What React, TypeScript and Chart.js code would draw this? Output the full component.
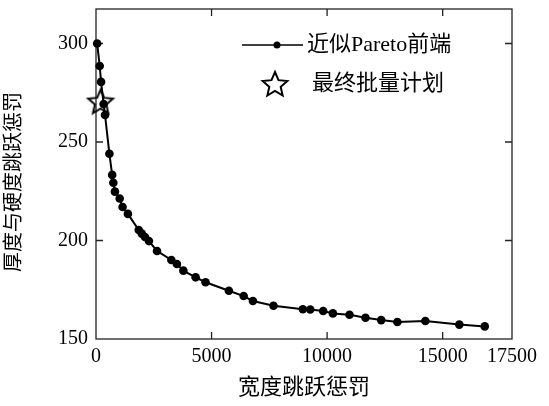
import React, { useEffect, useRef } from 'react';
import { Chart, registerables } from 'chart.js';

Chart.register(...registerables);

const paretoX = [50, 160, 220, 330, 390, 580, 700, 750, 820, 1025, 1150, 1380, 1850, 1980, 2120, 2290, 2640, 3260, 3500, 3780, 4310, 4740, 5750, 6390, 6790, 7680, 8950, 9270, 9830, 10250, 10970, 11660, 12340, 13040, 14250, 15720, 16820];
const paretoY = [300, 288.6, 280.5, 269.3, 263.7, 244, 233.3, 229.3, 224.8, 221.3, 217, 213.5, 205.3, 203.5, 201.8, 199.7, 194.7, 190.1, 188.1, 184.7, 181.3, 178.8, 174.5, 171.8, 169.3, 166.9, 165.1, 165, 164.2, 163, 162.3, 160.8, 159.6, 158.6, 159.1, 157.3, 156.4];
const planX = [200];
const planY = [270];

const xTickValues = [0, 5000, 10000, 15000, 18000];
const xTickLabels = ['0', '5000', '10000', '15000', '17500'];
const yTickValues = [150, 200, 250, 300];
const xAxisTitle = '宽度跳跃惩罚';
const yAxisTitle = '厚度与硬度跳跃惩罚';
const seriesNames = ['近似Pareto前端', '最终批量计划'];

const FONT = "'Liberation Serif', 'Times New Roman', 'Noto Sans CJK SC', serif";
const INK = '#000000';

function starPath(ctx: CanvasRenderingContext2D, cx: number, cy: number, R: number, r: number) {
  ctx.beginPath();
  for (let i = 0; i < 10; i++) {
    const a = -Math.PI / 2 + (i * Math.PI) / 5;
    const rad = i % 2 === 0 ? R : r;
    const x = cx + rad * Math.cos(a);
    const y = cy + rad * Math.sin(a);
    if (i === 0) ctx.moveTo(x, y);
    else ctx.lineTo(x, y);
  }
  ctx.closePath();
}

function makeStarImage(R: number, r: number, lw: number) {
  const size = Math.ceil(2 * R + lw * 2 + 4);
  const c = document.createElement('canvas');
  c.width = size;
  c.height = size;
  const ctx = c.getContext('2d')!;
  ctx.strokeStyle = INK;
  ctx.lineWidth = lw;
  ctx.lineJoin = 'miter';
  starPath(ctx, size / 2, size / 2, R, r);
  ctx.stroke();
  return c;
}

const framePlugin = {
  id: 'frameTicks',
  beforeDatasetsDraw(chart: any) {
    const { ctx, chartArea } = chart;
    const { left, right, top, bottom } = chartArea;
    const xs = chart.scales.x;
    const ys = chart.scales.y;
    const tl = 7;
    ctx.save();
    ctx.strokeStyle = '#222';
    ctx.lineWidth = 1.3;
    ctx.strokeRect(left, top, right - left, bottom - top);
    ctx.beginPath();
    xTickValues.forEach((v) => {
      const px = xs.getPixelForValue(v);
      if (px <= left + 1 || px >= right - 1) return;
      ctx.moveTo(px, bottom);
      ctx.lineTo(px, bottom - tl);
      ctx.moveTo(px, top);
      ctx.lineTo(px, top + tl);
    });
    yTickValues.forEach((v) => {
      const py = ys.getPixelForValue(v);
      if (py <= top + 1 || py >= bottom - 1) return;
      ctx.moveTo(left, py);
      ctx.lineTo(left + tl, py);
      ctx.moveTo(right, py);
      ctx.lineTo(right - tl, py);
    });
    ctx.stroke();
    ctx.restore();
  },
  afterDraw(chart: any) {
    const { ctx, chartArea } = chart;
    ctx.save();
    // axis titles
    ctx.fillStyle = INK;
    ctx.textAlign = 'center';
    ctx.textBaseline = 'middle';
    ctx.font = `22px ${FONT}`;
    ctx.fillText(xAxisTitle, (chartArea.left + chartArea.right) / 2, 388);
    ctx.save();
    ctx.font = `20px ${FONT}`;
    ctx.translate(15, (chartArea.top + chartArea.bottom) / 2 + 8);
    ctx.rotate(-Math.PI / 2);
    ctx.fillText(yAxisTitle, 0, 0);
    ctx.restore();

    // legend
    const lx = 242;
    const ly1 = 45;
    const ly2 = 84;
    ctx.strokeStyle = INK;
    ctx.lineWidth = 1.5;
    ctx.beginPath();
    ctx.moveTo(lx, ly1);
    ctx.lineTo(lx + 61, ly1);
    ctx.stroke();
    ctx.fillStyle = INK;
    ctx.beginPath();
    ctx.arc(lx + 35, ly1, 3.5, 0, Math.PI * 2);
    ctx.fill();
    ctx.lineWidth = 2;
    starPath(ctx, lx + 33, ly2 + 1, 13, 6);
    ctx.stroke();
    ctx.textAlign = 'left';
    ctx.textBaseline = 'middle';
    ctx.font = `22px ${FONT}`;
    ctx.fillText(seriesNames[0], 307, ly1);
    ctx.fillText(seriesNames[1], 312, ly2);
    ctx.restore();
  },
};

export default function App() {
  const ref = useRef<HTMLCanvasElement | null>(null);
  useEffect(() => {
    document.body.style.margin = '0';
    const canvas = ref.current!;
    const star = makeStarImage(13, 6, 2);
    const chart = new Chart(canvas, {
      type: 'line',
      data: {
        datasets: [
          {
            label: seriesNames[1],
            data: planX.map((x, i) => ({ x, y: planY[i] })),
            showLine: false,
            pointStyle: star as any,
            pointRadius: 13,
            order: 0,
            clip: false as any,
          },
          {
            label: seriesNames[0],
            data: paretoX.map((x, i) => ({ x, y: paretoY[i] })),
            borderColor: INK,
            backgroundColor: INK,
            borderWidth: 2,
            pointRadius: 4.3,
            pointBackgroundColor: INK,
            pointBorderColor: INK,
            pointBorderWidth: 0,
            tension: 0,
            order: 1,
            clip: false as any,
          },
        ],
      },
      options: {
        responsive: false,
        animation: false,
        layout: { autoPadding: false, padding: { left: 0, top: 9, right: 37, bottom: 0 } },
        plugins: {
          legend: { display: false },
          tooltip: { enabled: false },
          title: { display: false },
        },
        scales: {
          x: {
            type: 'linear',
            min: 0,
            max: 18000,
            grid: { display: false, drawTicks: false },
            border: { display: false },
            afterBuildTicks: (scale: any) => {
              scale.ticks = xTickValues.map((v) => ({ value: v }));
            },
            afterFit: (scale: any) => {
              scale.height = 67;
              scale.paddingLeft = 0;
              scale.paddingRight = 0;
            },
            ticks: {
              color: INK,
              padding: 6,
              maxRotation: 0,
              autoSkip: false,
              font: { family: FONT, size: 20 },
              callback: (v: any) => {
                const i = xTickValues.indexOf(Number(v));
                return i >= 0 ? xTickLabels[i] : '';
              },
            },
          },
          y: {
            type: 'linear',
            min: 150,
            max: 317.5,
            grid: { display: false, drawTicks: false },
            border: { display: false },
            afterBuildTicks: (scale: any) => {
              scale.ticks = yTickValues.map((v) => ({ value: v }));
            },
            afterFit: (scale: any) => {
              scale.width = 96;
              scale.paddingTop = 0;
              scale.paddingBottom = 0;
            },
            ticks: {
              color: INK,
              padding: 8,
              autoSkip: false,
              font: { family: FONT, size: 20 },
              callback: (v: any) => String(v),
            },
          },
        },
      },
      plugins: [framePlugin],
    });
    return () => chart.destroy();
  }, []);
  return (
    <div style={{ width: 549, height: 406, background: '#fff' }}>
      <canvas ref={ref} width={549} height={406} />
    </div>
  );
}
